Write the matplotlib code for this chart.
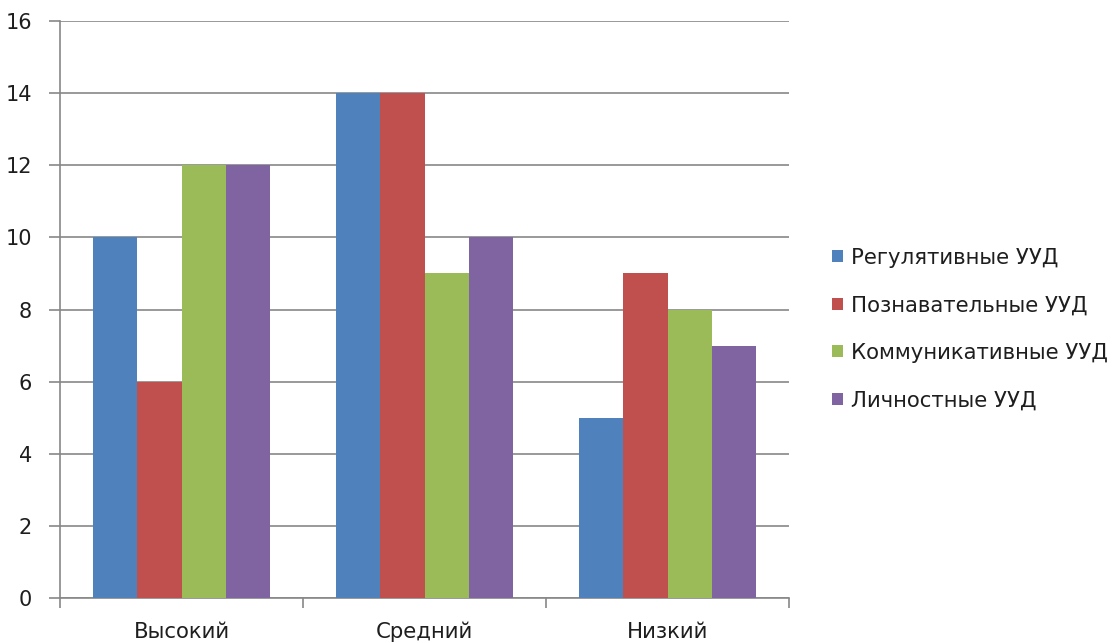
import matplotlib
matplotlib.use("Agg")
import matplotlib.pyplot as plt
import numpy as np

plt.rcParams['font.family'] = ['DejaVu Sans']

categories = ["Высокий", "Средний", "Низкий"]
series_names = ["Регулятивные УУД", "Познавательные УУД",
                "Коммуникативные УУД", "Личностные УУД"]
regulative = [10, 14, 5]
cognitive = [6, 14, 9]
communicative = [12, 9, 8]
personal = [12, 10, 7]
series_values = [regulative, cognitive, communicative, personal]
colors = ["#4F81BD", "#C0504D", "#9BBB59", "#8064A2"]

fig = plt.figure(figsize=(11.18, 6.43), dpi=100)
ax = fig.add_axes([60 / 1118, 1 - 598 / 643, (789 - 60) / 1118, (598 - 21) / 643])

n = len(series_values)
width = 1.0 / (n + 1.5)
x = np.arange(len(categories))
for i, (name, vals, c) in enumerate(zip(series_names, series_values, colors)):
    ax.bar(x - width * n / 2 + width * (i + 0.5), vals, width=width,
           color=c, label=name, zorder=3)

ax.set_xlim(-0.5, len(categories) - 0.5)
ax.set_ylim(0, 16)
ax.set_yticks(np.arange(0, 17, 2))
ax.yaxis.grid(True, color="#878787", linewidth=1.2, zorder=0)
ax.set_xticks(x)
ax.set_xticklabels(categories)
ax.set_xticks(np.arange(-0.5, len(categories), 1.0), minor=True)
ax.tick_params(axis="x", which="major", length=0, pad=17, labelsize=15.3,
               labelcolor="#1e1e1e")
ax.tick_params(axis="x", which="minor", length=7, width=1.2, color="#878787",
               direction="out")
ax.tick_params(axis="y", length=8, width=1.2, color="#878787", labelsize=15,
               labelcolor="#1e1e1e", pad=12)

for side in ("top", "right"):
    ax.spines[side].set_visible(False)
for side in ("left", "bottom"):
    ax.spines[side].set_color("#878787")
    ax.spines[side].set_linewidth(1.2)

leg = fig.legend(loc="center left", bbox_to_anchor=(813 / 1118, 1 - 329 / 643),
                 frameon=False, fontsize=15.3, handlelength=0.5,
                 handleheight=0.5, handletextpad=0.4, labelspacing=1.3)
for t in leg.get_texts():
    t.set_color("#1e1e1e")

fig.savefig("out.png", dpi=100)
